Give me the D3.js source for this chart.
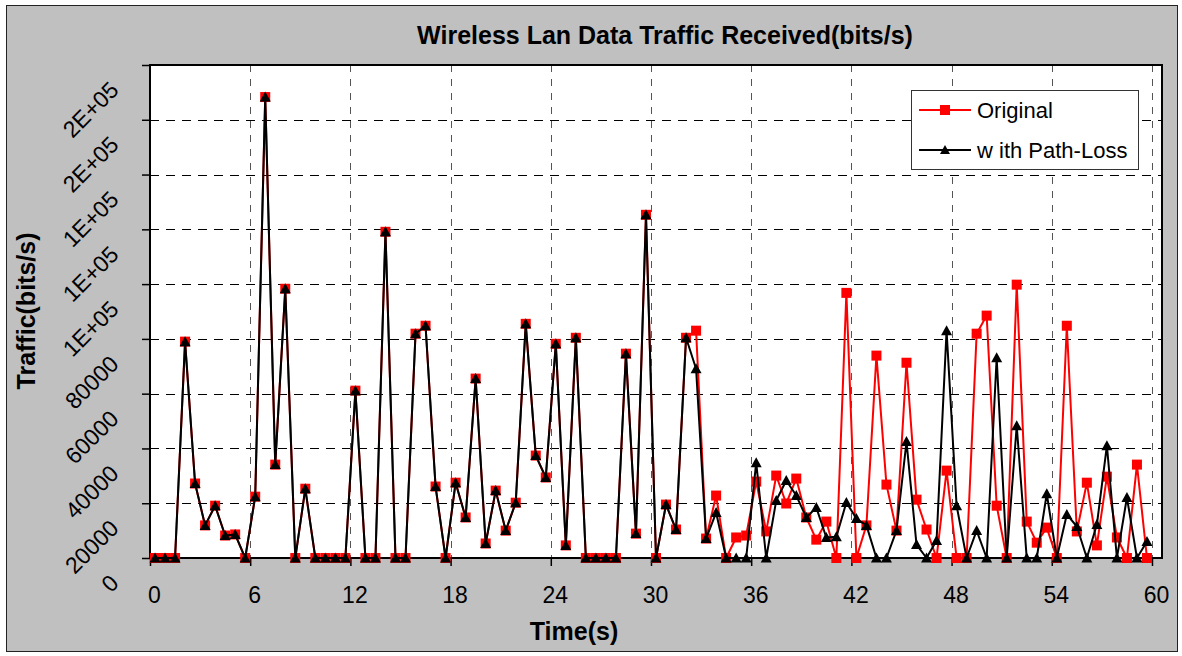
<!DOCTYPE html>
<html>
<head>
<meta charset="utf-8">
<script src="https://cdn.jsdelivr.net/npm/d3@7"></script>
<style>
  body { margin: 0; background: #fff; }
  svg { display: block; }
  text { font-family: "Liberation Sans", Arial, sans-serif; fill: #000; }
</style>
</head>
<body>
<svg id="chart" width="1182" height="656"></svg>
<script>
// Sample times (s)
const times = [
  0.3, 0.9, 1.5, 2.1, 2.7, 3.3, 3.9, 4.5, 5.1, 5.7,
  6.3, 6.9, 7.5, 8.1, 8.7, 9.3, 9.9, 10.5, 11.1, 11.7,
  12.3, 12.9, 13.5, 14.1, 14.7, 15.3, 15.9, 16.5, 17.1, 17.7,
  18.3, 18.9, 19.5, 20.1, 20.7, 21.3, 21.9, 22.5, 23.1, 23.7,
  24.3, 24.9, 25.5, 26.1, 26.7, 27.3, 27.9, 28.5, 29.1, 29.7,
  30.3, 30.9, 31.5, 32.1, 32.7, 33.3, 33.9, 34.5, 35.1, 35.7,
  36.3, 36.9, 37.5, 38.1, 38.7, 39.3, 39.9, 40.5, 41.1, 41.7,
  42.3, 42.9, 43.5, 44.1, 44.7, 45.3, 45.9, 46.5, 47.1, 47.7,
  48.3, 48.9, 49.5, 50.1, 50.7, 51.3, 51.9, 52.5, 53.1, 53.7,
  54.3, 54.9, 55.5, 56.1, 56.7, 57.3, 57.9, 58.5, 59.1, 59.7
];

// Received traffic (bits/s), original run
const original = [
  0, 0, 0, 79000, 27200, 11900, 19100, 8200, 8600, 0,
  22400, 168300, 34100, 98300, 0, 25300, 0, 0, 0, 0,
  61100, 0, 0, 119100, 0, 0, 81900, 84800, 26100, 0,
  27500, 14800, 65500, 5300, 24600, 10000, 20200, 85500, 37400, 29400,
  78200, 4600, 80400, 0, 0, 0, 0, 74600, 8900, 125300,
  0, 19500, 10400, 80400, 83000, 7100, 22800, 0, 7500, 8200,
  27900, 9700, 30100, 19900, 29000, 14800, 6700, 13300, 0, 96800,
  0, 11900, 73900, 26800, 10000, 71300, 21300, 10400, 0, 31900,
  0, 0, 81900, 88500, 19100, 0, 99800, 13300, 5600, 11100,
  0, 84800, 9700, 27500, 4600, 29700, 7500, 0, 34100, 0
];

// Received traffic (bits/s), run with path loss
const pathLoss = [
  0, 0, 0, 79000, 27200, 11900, 19100, 8200, 8600, 0,
  22400, 168300, 34100, 98300, 0, 25300, 0, 0, 0, 0,
  61100, 0, 0, 119100, 0, 0, 81900, 84800, 26100, 0,
  27500, 14800, 65500, 5300, 24600, 10000, 20200, 85500, 37400, 29400,
  78200, 4600, 80400, 0, 0, 0, 0, 74600, 8900, 125300,
  0, 19500, 10400, 80400, 69100, 7100, 16600, 0, 0, 0,
  34800, 0, 21000, 28300, 22800, 14800, 18400, 7500, 7800, 20300,
  14400, 11900, 0, 0, 10000, 42500, 4900, 0, 6400, 83000,
  19100, 0, 10000, 0, 73100, 0, 48300, 0, 0, 23500,
  0, 15900, 11500, 0, 12200, 41000, 0, 22100, 0, 6000
];

const xTicks = [0, 6, 12, 18, 24, 30, 36, 42, 48, 54, 60];
const yTicks = [0, 20000, 40000, 60000, 80000, 100000, 120000, 140000, 160000, 180000];
const yTickLabels = ["0", "20000", "40000", "60000", "80000", "1E+05", "1E+05", "1E+05", "2E+05", "2E+05"];
const seriesNames = ["Original", "w ith Path-Loss"];

const svg = d3.select("#chart");
const plot = { left: 150, right: 1162, top: 65, bottom: 558 };

const x = d3.scaleLinear().domain([0, 60.6]).range([plot.left, plot.right]);
const y = d3.scaleLinear().domain([0, 180000]).range([plot.bottom, plot.top]);

// Chart area
svg.append("rect").attr("x", 6.5).attr("y", 5.5).attr("width", 1171).attr("height", 646)
  .attr("fill", "#c0c0c0").attr("stroke", "#222").attr("stroke-width", 1);

// Plot area
svg.append("rect").attr("x", plot.left).attr("y", plot.top)
  .attr("width", plot.right - plot.left).attr("height", plot.bottom - plot.top)
  .attr("fill", "#fff");

// Grid lines
svg.append("g").selectAll("line").data(yTicks.filter(d => d > 0)).join("line")
  .attr("x1", plot.left).attr("x2", plot.right)
  .attr("y1", d => Math.round(y(d)) + 0.5).attr("y2", d => Math.round(y(d)) + 0.5)
  .attr("stroke", "#000").attr("stroke-width", 1).attr("stroke-dasharray", "9,7");

svg.append("g").selectAll("line").data(xTicks.filter(d => d > 0)).join("line")
  .attr("x1", d => Math.round(x(d)) + 0.5).attr("x2", d => Math.round(x(d)) + 0.5)
  .attr("y1", plot.top).attr("y2", plot.bottom)
  .attr("stroke", "#555").attr("stroke-width", 1).attr("stroke-dasharray", "7,7");

// Axes
const yAxis = d3.axisLeft(y).tickValues(yTicks).tickSize(8).tickFormat((d, i) => yTickLabels[i]);
const gy = svg.append("g").attr("transform", `translate(${plot.left},0)`).call(yAxis);
gy.select(".domain").remove();
gy.selectAll(".tick line").attr("stroke", "#000").attr("stroke-width", 1.5);
gy.selectAll(".tick text")
  .attr("font-size", 23).attr("x", 0).attr("dy", 0)
  .attr("text-anchor", "end")
  .attr("transform", "translate(-30,26) rotate(-45)");

const xAxis = d3.axisBottom(x).tickValues(xTicks).tickSize(8).tickFormat(d3.format("d"));
const gx = svg.append("g").attr("transform", `translate(0,${plot.bottom})`).call(xAxis);
gx.select(".domain").remove();
gx.selectAll(".tick line").attr("stroke", "#000").attr("stroke-width", 1.5);
gx.selectAll(".tick text").attr("font-size", 23).attr("y", 0).attr("dy", 0)
  .attr("transform", "translate(4,45)");

// Plot border
svg.append("rect").attr("x", plot.left).attr("y", plot.top)
  .attr("width", plot.right - plot.left).attr("height", plot.bottom - plot.top)
  .attr("fill", "none").attr("stroke", "#000").attr("stroke-width", 2);

// Series
const line = d3.line().x(d => x(d[0])).y(d => y(d[1]));
const redPts = times.map((t, i) => [t, original[i]]);
const blkPts = times.map((t, i) => [t, pathLoss[i]]);
const tri = "M0,-5.5L5.5,4.5L-5.5,4.5Z";

svg.append("path").datum(redPts).attr("d", line)
  .attr("fill", "none").attr("stroke", "#ff0000").attr("stroke-width", 2).attr("stroke-linejoin", "round");
svg.append("g").selectAll("rect").data(redPts).join("rect")
  .attr("x", d => x(d[0]) - 5).attr("y", d => y(d[1]) - 5)
  .attr("width", 10).attr("height", 10).attr("fill", "#ff0000");

svg.append("path").datum(blkPts).attr("d", line)
  .attr("fill", "none").attr("stroke", "#000").attr("stroke-width", 2).attr("stroke-linejoin", "round");
svg.append("g").selectAll("path").data(blkPts).join("path")
  .attr("d", tri).attr("transform", d => `translate(${x(d[0])},${y(d[1])})`)
  .attr("fill", "#000");

// Titles
svg.append("text").attr("x", 665).attr("y", 44).attr("text-anchor", "middle")
  .attr("font-size", 25).attr("font-weight", "bold")
  .text("Wireless Lan Data Traffic Received(bits/s)");
svg.append("text").attr("x", 574).attr("y", 640).attr("text-anchor", "middle")
  .attr("font-size", 25).attr("font-weight", "bold").text("Time(s)");
svg.append("text").attr("transform", "translate(35,311) rotate(-90)").attr("text-anchor", "middle")
  .attr("font-size", 25).attr("font-weight", "bold").text("Traffic(bits/s)");

// Legend
const lg = svg.append("g").attr("transform", "translate(911,90)");
lg.append("rect").attr("x", 0.5).attr("y", 0.5).attr("width", 227).attr("height", 79)
  .attr("fill", "#fff").attr("stroke", "#333").attr("stroke-width", 1);
const rows = [
  { name: seriesNames[0], color: "#ff0000", shape: "square", cy: 20 },
  { name: seriesNames[1], color: "#000", shape: "tri", cy: 60 }
];
rows.forEach(r => {
  lg.append("line").attr("x1", 8).attr("x2", 60).attr("y1", r.cy).attr("y2", r.cy)
    .attr("stroke", r.color).attr("stroke-width", 2);
  if (r.shape === "square") {
    lg.append("rect").attr("x", 29).attr("y", r.cy - 5).attr("width", 10).attr("height", 10).attr("fill", r.color);
  } else {
    lg.append("path").attr("d", "M0,-5L5,4L-5,4Z").attr("transform", `translate(34,${r.cy})`).attr("fill", r.color);
  }
  lg.append("text").attr("x", 66).attr("y", r.cy + 8).attr("font-size", 22).text(r.name);
});
</script>
</body>
</html>
